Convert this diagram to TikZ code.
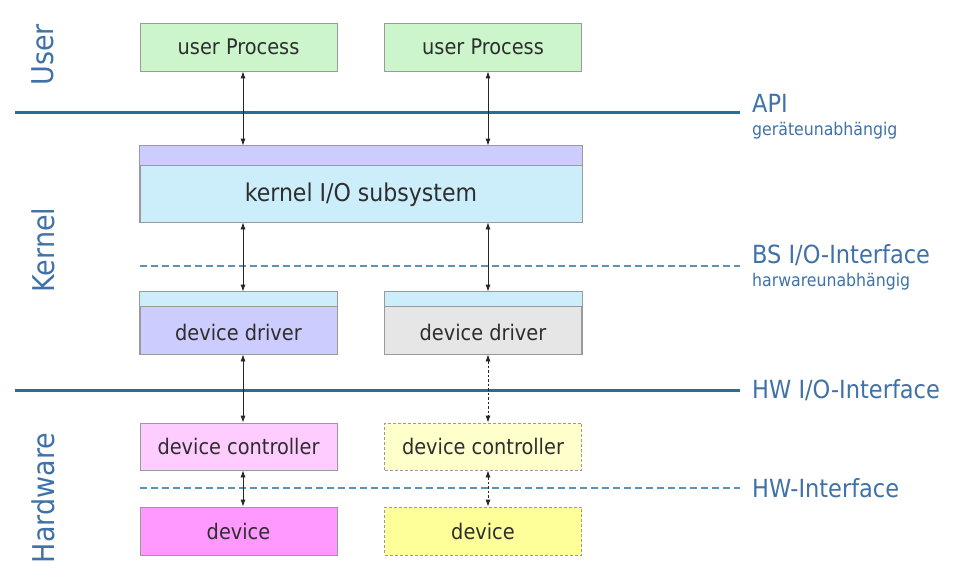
\documentclass[tikz,border=0pt]{standalone}
\usepackage{fontspec}
\setmainfont{DejaVu Sans Condensed}
\usetikzlibrary{arrows.meta}

\definecolor{layerline}{HTML}{226F9C}
\definecolor{labelblue}{HTML}{3F72A6}
\definecolor{boxedge}{HTML}{9A9A9A}
\definecolor{boxtext}{HTML}{2E2E2E}
\definecolor{procgreen}{HTML}{CCF5CC}
\definecolor{kernpurple}{HTML}{CCCCFF}
\definecolor{kernblue}{HTML}{CCEEFB}
\definecolor{drvgray}{HTML}{E6E6E6}
\definecolor{ctrlpink}{HTML}{FFCCFF}
\definecolor{devmagenta}{HTML}{FF99FF}
\definecolor{ctrlyellow}{HTML}{FFFFCC}
\definecolor{devyellow}{HTML}{FFFF99}

\tikzset{
  box/.style={draw=boxedge, line width=0.8pt, minimum width=197pt, minimum height=48pt,
    inner sep=0pt, text=boxtext, font=\fontsize{21.5}{24}\selectfont},
  optbox/.style={box, dash pattern=on 3pt off 2pt},
  solidlayer/.style={draw=layerline, line width=3pt},
  dashlayer/.style={draw=layerline!75, line width=1.5pt, dash pattern=on 7pt off 4pt},
  link/.style={draw=black!85, line width=0.8pt,
    {Latex[length=7pt,width=5pt]}-{Latex[length=7pt,width=5pt]}},
  optlink/.style={link, dash pattern=on 2.5pt off 2pt},
  layername/.style={text=labelblue, rotate=90, font=\fontsize{30}{32}\selectfont},
  ifname/.style={text=labelblue, anchor=west, inner sep=0pt, font=\fontsize{25}{27}\selectfont},
  ifnote/.style={text=labelblue, anchor=west, inner sep=0pt, font=\fontsize{17.5}{19}\selectfont},
}

\begin{document}
\begin{tikzpicture}[x=1pt, y=-1pt]
  \useasboundingbox[fill=white] (0,0) rectangle (954,578);

  % layer boundaries
  \draw[solidlayer] (15,113) -- (740,113);
  \draw[dashlayer] (140,266) -- (740,266);
  \draw[solidlayer] (15,390) -- (740,390);
  \draw[dashlayer] (140,488) -- (740,488);

  % layer names
  \node[layername] (user) at (43,55) {User};
  \node[layername] (kernel) at (43,250) {Kernel};
  \node[layername] (hw) at (43,498) {Hardware};

  % interface names
  \node[ifname] (api) at (752,103) {API};
  \node[ifnote] (apinote) at (752,131) {geräteunabhängig};
  \node[ifname] (bsio) at (752,255) {BS I/O-Interface};
  \node[ifnote] (bsionote) at (752,282) {harwareunabhängig};
  \node[ifname] (hwio) at (752,390) {HW I/O-Interface};
  \node[ifname] (hwif) at (752,488) {HW-Interface};

  % user processes
  \node[box, fill=procgreen] (up1) at (238.5,47) {user Process};
  \node[box, fill=procgreen] (up2) at (483,47) {user Process};

  % kernel I/O subsystem with its top strip
  \node[box, fill=kernblue, minimum width=442pt, minimum height=76pt] (kern) at (361,184) {};
  \fill[kernpurple] (kern.north west) rectangle ([yshift=-20pt]kern.north east);
  \draw[boxedge, line width=0.8pt] ([yshift=-20pt]kern.north west) -- ([yshift=-20pt]kern.north east);
  \draw[boxedge, line width=0.8pt] (kern.north west) rectangle (kern.south east);
  \node[text=boxtext, font=\fontsize{24.5}{26}\selectfont] (kerntext) at (361,195) {kernel I/O subsystem};

  % device drivers with their top strips
  \node[box, fill=kernpurple, minimum height=62pt] (dd1) at (238.5,323) {};
  \node[box, fill=drvgray, minimum height=62pt] (dd2) at (483,323) {};
  \foreach \d in {dd1,dd2} {
    \fill[kernblue] (\d.north west) rectangle ([yshift=-15pt]\d.north east);
    \draw[boxedge, line width=0.8pt] ([yshift=-15pt]\d.north west) -- ([yshift=-15pt]\d.north east);
    \draw[boxedge, line width=0.8pt] (\d.north west) rectangle (\d.south east);
  }
  \node[text=boxtext, font=\fontsize{21.5}{24}\selectfont] (dd1text) at (238.5,332) {device driver};
  \node[text=boxtext, font=\fontsize{21.5}{24}\selectfont] (dd2text) at (483,332) {device driver};

  % device controllers and devices
  \node[box, fill=ctrlpink, minimum height=47pt] (dc1) at (238.5,446.5) {device controller};
  \node[optbox, fill=ctrlyellow, minimum height=47pt] (dc2) at (483,446.5) {device controller};
  \node[box, fill=devmagenta] (dv1) at (238.5,531) {device};
  \node[optbox, fill=devyellow] (dv2) at (483,531) {device};

  % connections, left column
  \draw[link] ([xshift=4.5pt]up1.south) -- ([xshift=4.5pt]up1.south |- kern.north);
  \draw[link] ([xshift=4.5pt]dd1.north |- kern.south) -- ([xshift=4.5pt]dd1.north);
  \draw[link] ([xshift=4.5pt]dd1.south) -- ([xshift=4.5pt]dc1.north);
  \draw[link] ([xshift=4.5pt]dc1.south) -- ([xshift=4.5pt]dv1.north);

  % connections, right column
  \draw[link] ([xshift=5pt]up2.south) -- ([xshift=5pt]up2.south |- kern.north);
  \draw[link] ([xshift=5pt]dd2.north |- kern.south) -- ([xshift=5pt]dd2.north);
  \draw[optlink] ([xshift=5pt]dd2.south) -- ([xshift=5pt]dc2.north);
  \draw[optlink] ([xshift=5pt]dc2.south) -- ([xshift=5pt]dv2.north);
\end{tikzpicture}
\end{document}
